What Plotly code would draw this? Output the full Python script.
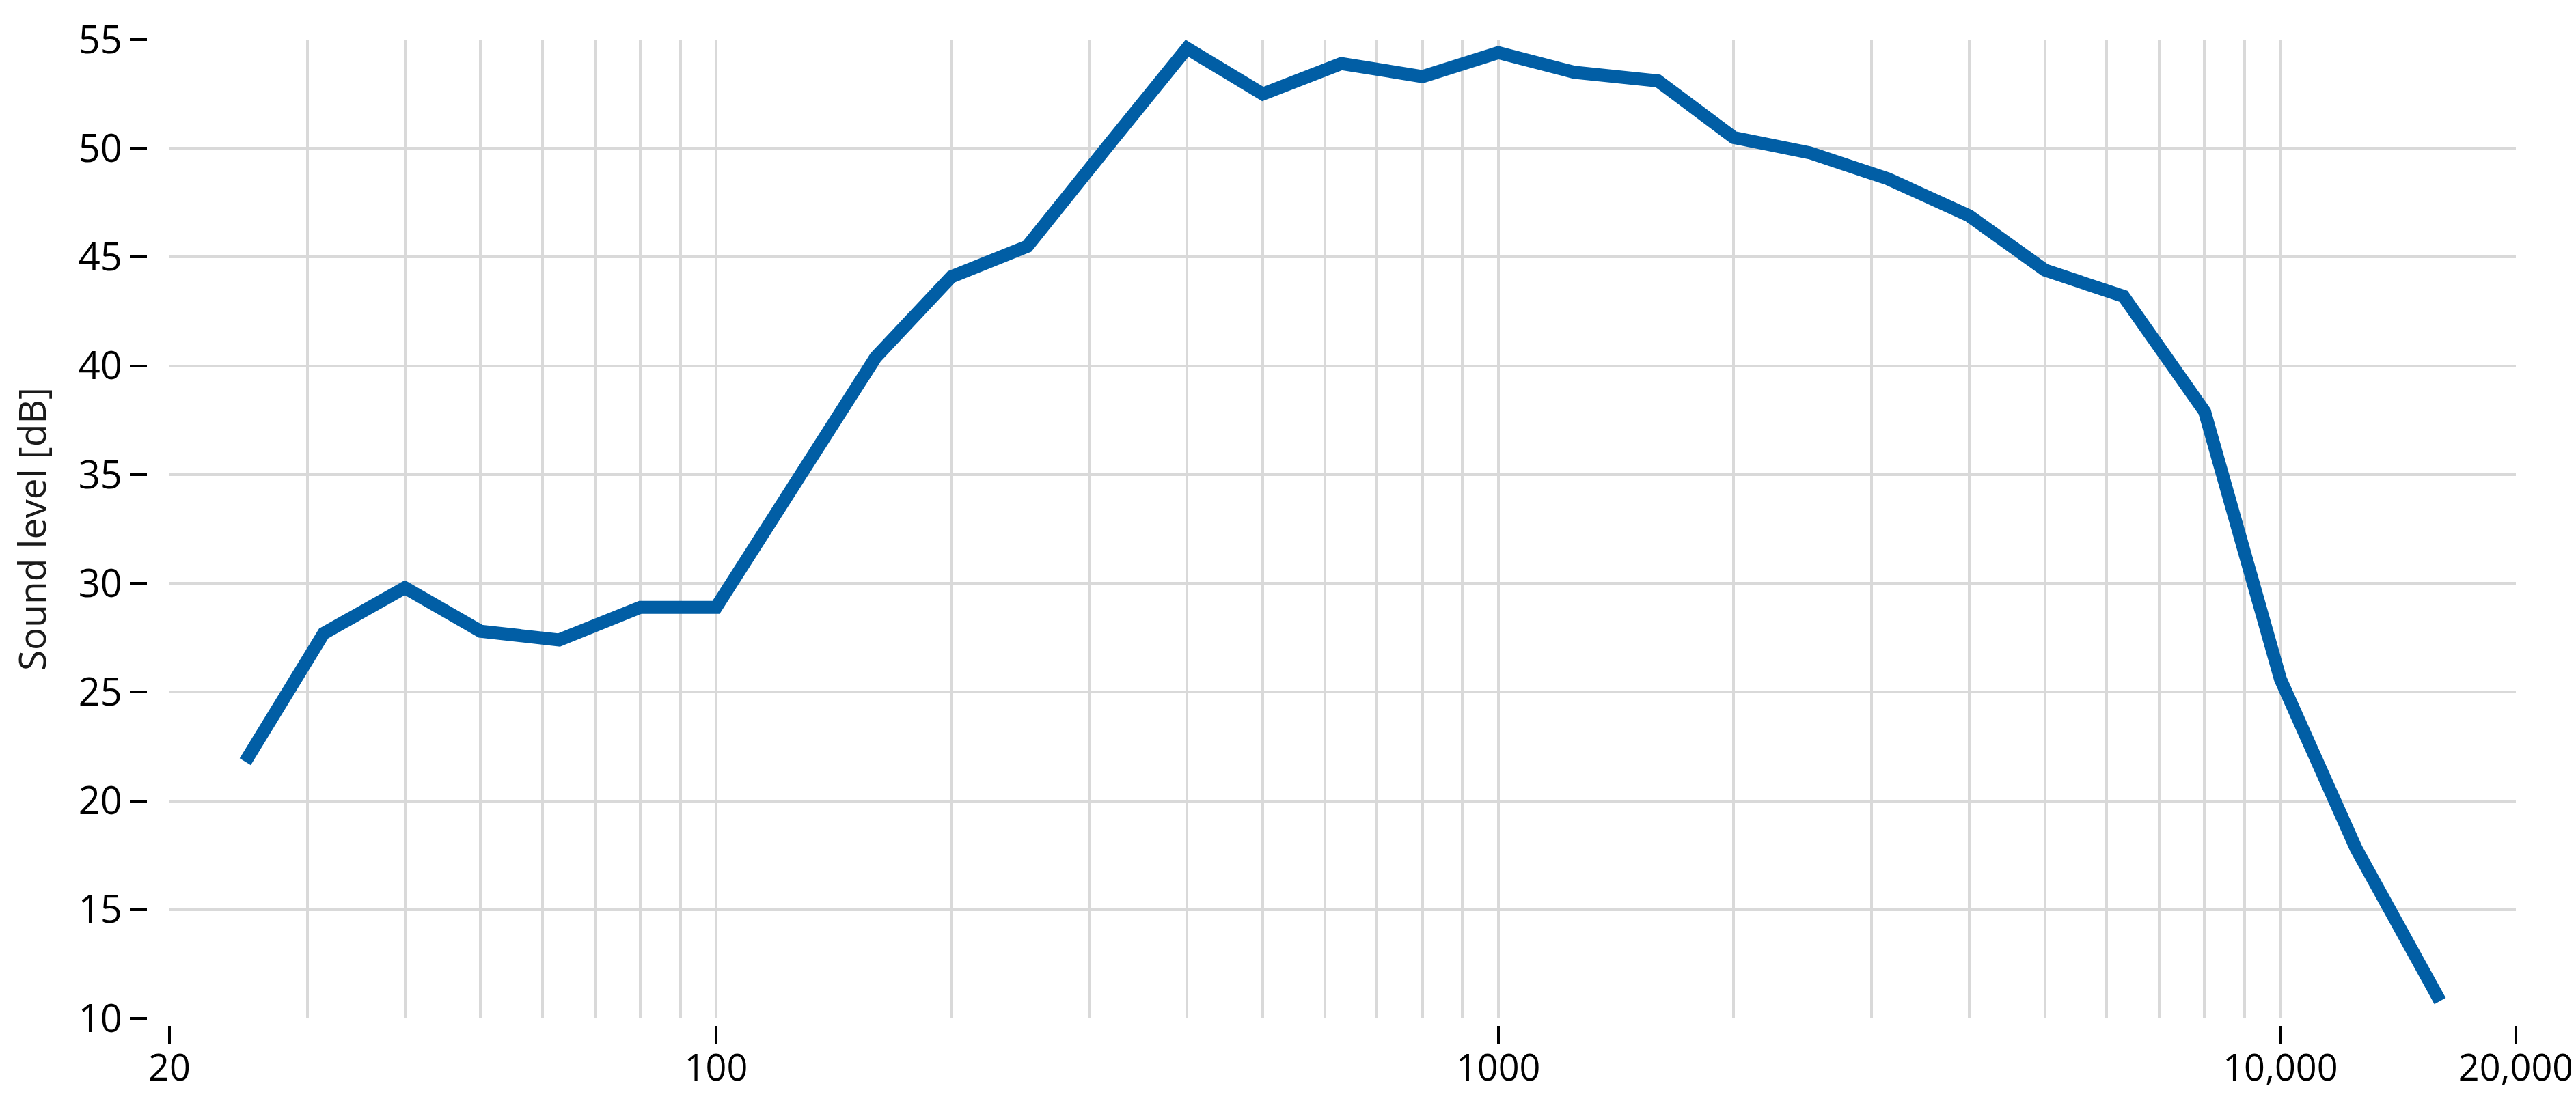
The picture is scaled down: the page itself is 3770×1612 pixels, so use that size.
import plotly.graph_objects as go

# ------------------------------------- Data ---------------------------------------
# third-octave band centre frequencies [Hz]
freqs = [25, 31.5, 40, 50, 63, 80, 100, 125, 160, 200, 250, 315, 400, 500, 630,
         800, 1000, 1250, 1600, 2000, 2500, 3150, 4000, 5000, 6300, 8000,
         10000, 12500, 16000]

# measured sound level per band [dB]
levels = [21.8, 27.7, 29.8, 27.8, 27.4, 28.9, 28.9, 34.4, 40.4, 44.1, 45.5, 50.0,
          54.6, 52.5, 53.9, 53.3, 54.4, 53.5, 53.1, 50.5, 49.8, 48.6, 46.9, 44.4,
          43.2, 37.9, 25.6, 17.8, 10.8]

x_ticks = [20, 100, 1000, 10000, 20000]
x_ticktext = ["20", "100", "1000", "10,000", "20,000"]
x_grid = [30, 40, 50, 60, 70, 80, 90,
          100, 200, 300, 400, 500, 600, 700, 800, 900,
          1000, 2000, 3000, 4000, 5000, 6000, 7000, 8000, 9000, 10000]

y_ticks = [10, 15, 20, 25, 30, 35, 40, 45, 50, 55]
y_grid = [15, 20, 25, 30, 35, 40, 45, 50]

# ------------------------------------- Plot ---------------------------------------
W, H = 3770, 1612
FONT = "Open Sans"

fig = go.Figure()

fig.add_trace(
    go.Scatter(
        x=freqs,
        y=levels,
        mode="lines",
        line=dict(color="#015ea5", width=19),
        showlegend=False,
    )
)

# Axes sit a little away from the plot area, like the original
fig.update_xaxes(
    type="log",
    range=[1.30103, 4.30103],
    domain=[0.0095, 1],
    anchor="free",
    position=0,
    tickmode="array",
    tickvals=x_ticks,
    ticktext=x_ticktext,
    ticks="outside",
    ticklen=27,
    tickwidth=4,
    tickcolor="black",
    ticklabelstandoff=-12,
    ticklabeloverflow="allow",
    showgrid=False,
    showline=False,
    zeroline=False,
    tickfont=dict(family=FONT, size=54, color="black"),
    minor=dict(
        tickmode="array",
        tickvals=x_grid,
        ticks="",
        showgrid=True,
        gridcolor="#d9d9d9",
        gridwidth=4,
    ),
)

fig.update_yaxes(
    range=[10, 55],
    domain=[0.0069, 1],
    anchor="free",
    position=0,
    tickmode="array",
    tickvals=y_ticks,
    ticks="outside",
    ticklen=25,
    tickwidth=4,
    tickcolor="black",
    showgrid=False,
    showline=False,
    zeroline=False,
    tickfont=dict(family=FONT, size=56, color="black"),
    title=dict(text="Sound level [dB]", font=dict(family=FONT, size=55, color="#1a1a1a"),
               standoff=30),
    minor=dict(
        tickmode="array",
        tickvals=y_grid,
        ticks="",
        showgrid=True,
        gridcolor="#d9d9d9",
        gridwidth=4,
    ),
)

fig.update_layout(
    width=W,
    height=H,
    margin=dict(l=207, r=96, t=50, b=119, autoexpand=False),
    plot_bgcolor="white",
    paper_bgcolor="white",
    showlegend=False,
)

fig.write_html("out.html")
